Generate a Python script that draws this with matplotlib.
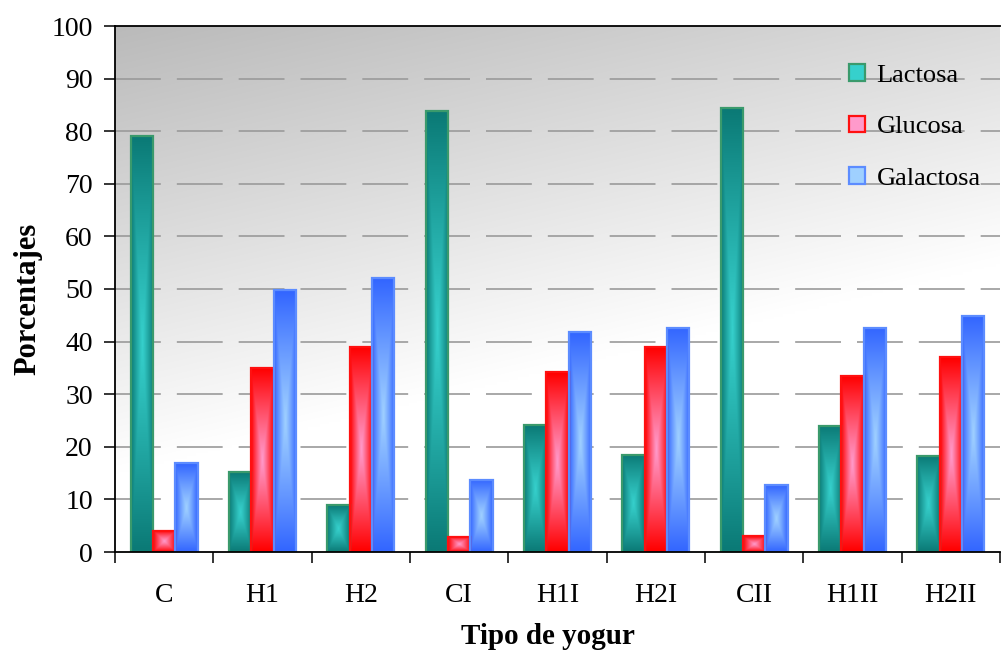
import numpy as np
import matplotlib
matplotlib.use("Agg")
import matplotlib.pyplot as plt
from matplotlib.patches import Patch
from matplotlib.colors import to_rgb

plt.rcParams['font.family'] = ['Liberation Serif', 'DejaVu Serif']

# Data
categories = ["C", "H1", "H2", "CI", "H1I", "H2I", "CII", "H1II", "H2II"]
lactosa = [79.1, 15.2, 8.9, 83.8, 24.1, 18.5, 84.4, 24.0, 18.3]
glucosa = [4.0, 35.0, 39.0, 2.9, 34.2, 39.0, 3.0, 33.5, 37.0]
galactosa = [16.9, 49.8, 52.0, 13.7, 41.8, 42.6, 12.7, 42.6, 44.8]
series_names = ["Lactosa", "Glucosa", "Galactosa"]
y_ticks = list(range(0, 101, 10))

# Styles: (edge colour of gradient, centre colour of gradient, outline colour)
styles = [
    ("#0b7a76", "#36d0cc", "#3a9a6c"),
    ("#ff0000", "#ff9acb", "#ff1010"),
    ("#3366ff", "#9fd0ff", "#5c8cff"),
]

W, H = 1002, 657
fig = plt.figure(figsize=(W / 100, H / 100), dpi=100)
ax = fig.add_axes([115 / W, 1 - 552 / H, 885 / W, 526 / H])

n = len(categories)
x = np.arange(n)
xlim = (-0.5, n - 0.5)
ylim = (0, 100)

# Background: diagonal grey-to-white gradient
gy, gx = np.mgrid[0:1:200j, 0:1:300j]
t = np.clip((0.4 * gx + gy) / 0.85, 0, 1)
g = 0.73 + 0.27 * t
bg = np.dstack([g, g, g])
ax.imshow(bg, extent=[xlim[0], xlim[1], ylim[0], ylim[1]], origin="upper",
          aspect="auto", zorder=0, interpolation="bilinear")

# Dashed horizontal gridlines
for yv in y_ticks[1:-1]:
    ax.axhline(yv, color="#9a9a9a", lw=1.2, dashes=(27.5, 9.6), zorder=1)


def bar_gradient(c_edge, c_mid, n=80):
    yy, xx = np.mgrid[-1:1:complex(0, n), -1:1:complex(0, n)]
    tt = np.maximum(np.abs(xx), np.abs(yy)) ** 1.1
    e = np.array(to_rgb(c_edge))
    m = np.array(to_rgb(c_mid))
    return m[None, None, :] * (1 - tt[..., None]) + e[None, None, :] * tt[..., None]


bw = 0.226
all_series = [lactosa, glucosa, galactosa]
for k, (vals, (ce, cm, co)) in enumerate(zip(all_series, styles)):
    offs = (k - 1) * bw
    bars = ax.bar(x + offs, vals, width=bw, facecolor="none", edgecolor=co,
                  linewidth=1.6, zorder=3)
    img = bar_gradient(ce, cm)
    for p in bars.patches:
        x0, y0 = p.get_x(), p.get_y()
        ax.imshow(img, extent=[x0, x0 + p.get_width(), y0, y0 + p.get_height()],
                  aspect="auto", zorder=2, interpolation="bilinear")

ax.set_xlim(*xlim)
ax.set_ylim(*ylim)

# Axes styling
for s in ["left", "bottom", "top"]:
    ax.spines[s].set_color("black")
    ax.spines[s].set_linewidth(1.3)
    ax.spines[s].set_zorder(5)
ax.spines["right"].set_visible(False)

ax.set_yticks(y_ticks)
ax.tick_params(axis="y", direction="out", length=8, width=1.1, pad=8,
               labelsize=20)
ax.set_xticks(x)
ax.set_xticklabels(categories)
ax.tick_params(axis="x", which="major", length=0, pad=22, labelsize=20)
ax.set_xticks(np.arange(n + 1) - 0.5, minor=True)
ax.tick_params(axis="x", which="minor", direction="out", length=8, width=1.1)

fig.text(548 / W, 1 - 637 / H, "Tipo de yogur", ha="center", va="center",
         fontsize=21, fontweight="bold")
fig.text(28 / W, 1 - 299 / H, "Porcentajes", ha="center", va="center",
         rotation=90, fontsize=22, fontweight="bold")

handles = [Patch(facecolor=cm, edgecolor=co, linewidth=1.6)
           for (ce, cm, co) in styles]
ax.legend(handles, series_names, loc="upper left",
          bbox_to_anchor=((849 - 115) / 885, (552 - 64) / 526),
          frameon=False, fontsize=19, handlelength=0.6, handleheight=0.6,
          handletextpad=0.45, labelspacing=1.1, borderaxespad=0,
          borderpad=0)

fig.savefig("out.png", dpi=100)
